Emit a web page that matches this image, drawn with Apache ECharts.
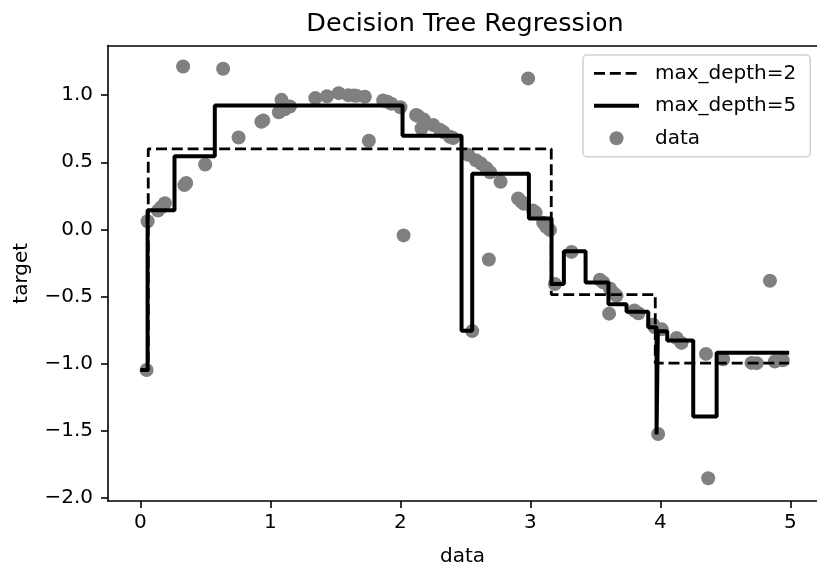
<!DOCTYPE html>
<html>
<head>
<meta charset="utf-8">
<script src="https://cdn.jsdelivr.net/npm/echarts@6/dist/echarts.min.js"></script>
<style>html,body{margin:0;padding:0;background:#fff}#c{width:817px;height:572px}</style>
</head>
<body>
<div id="c"></div>
<script>
// scatter data (x, target)
const dataX = [0.047,0.055,0.135,0.160,0.188,0.328,0.338,0.352,0.498,0.636,
  0.755,0.930,0.945,1.065,1.085,1.110,1.150,1.345,1.435,1.525,
  1.598,1.640,1.660,1.726,1.757,1.867,1.900,1.930,2.000,2.024,
  2.120,2.136,2.162,2.180,2.252,2.303,2.330,2.380,2.405,2.521,
  2.552,2.580,2.620,2.660,2.680,2.690,2.770,2.905,2.930,2.950,
  2.982,3.020,3.040,3.098,3.120,3.150,3.188,3.316,3.534,3.560,
  3.605,3.611,3.640,3.662,3.800,3.830,3.944,3.957,3.982,4.010,
  4.124,4.162,4.350,4.367,4.482,4.700,4.740,4.842,4.880,4.940];
const dataY = [-1.048,0.061,0.140,0.165,0.195,1.214,0.330,0.345,0.483,1.197,
  0.685,0.802,0.812,0.873,0.965,0.895,0.915,0.978,0.992,1.015,
  1.000,0.998,0.996,0.988,0.660,0.960,0.950,0.936,0.910,-0.045,
  0.852,0.845,0.752,0.818,0.778,0.742,0.725,0.690,0.680,0.556,
  -0.758,0.515,0.490,0.458,-0.225,0.425,0.355,0.230,0.205,0.190,
  1.125,0.140,0.125,0.050,0.020,-0.005,-0.407,-0.168,-0.375,-0.395,
  -0.628,-0.440,-0.475,-0.495,-0.605,-0.625,-0.710,-0.730,-1.525,-0.745,
  -0.809,-0.846,-0.928,-1.855,-0.968,-0.995,-0.997,-0.383,-0.985,-0.975];

// max_depth=2 prediction: segment start x and value
const depth2X = [0, 0.06, 3.16, 3.96, 4.99];
const depth2Y = [-1.05, 0.600, -0.486, -0.997, -0.997];

// max_depth=5 prediction: segment start x and value
const depth5X = [0, 0.055, 0.262, 0.572, 2.016, 2.470, 2.552, 2.988, 3.162, 3.257,
  3.424, 3.600, 3.739, 3.906, 3.970, 3.980, 4.052, 4.252, 4.432, 4.99];
const depth5Y = [-1.048, 0.142, 0.544, 0.922, 0.698, -0.756, 0.415, 0.081, -0.407, -0.163,
  -0.395, -0.558, -0.614, -0.729, -1.529, -0.759, -0.829, -1.394, -0.919, -0.919];

const xTicks = [0, 1, 2, 3, 4, 5];
const yTicks = [-2.0, -1.5, -1.0, -0.5, 0.0, 0.5, 1.0];

const FONT = 'DejaVu Sans';
const zip = (a, b) => a.map((v, i) => [v, b[i]]);
const fmtY = v => (v < 0 ? '\u2212' + Math.abs(v).toFixed(1) : v.toFixed(1));
const XMIN = -0.2495, XMAX = 5.204, YMIN = -2.024, YMAX = 1.370;
const spine = {show: true, onZero: false, lineStyle: {color: '#000', width: 1.6}};
const dash2 = {color: '#000', width: 2.8, type: [11, 4.8]};
const solid5 = {color: '#000', width: 4};

const chart = echarts.init(document.getElementById('c'), null, {renderer: 'canvas'});
chart.setOption({
  animation: false,
  backgroundColor: '#fff',
  textStyle: {fontFamily: FONT},
  title: {
    text: 'Decision Tree Regression',
    left: 460, top: 6, textAlign: 'center',
    textStyle: {fontFamily: FONT, fontSize: 25.5, fontWeight: 'normal', color: '#000'}
  },
  grid: {left: 108, right: 0, top: 45.5, bottom: 63},
  legend: {
    data: [
      {name: 'max_depth=2', itemStyle: {opacity: 0}, lineStyle: dash2},
      {name: 'max_depth=5', itemStyle: {opacity: 0}, lineStyle: solid5},
      {name: 'data', icon: 'circle'}
    ],
    orient: 'vertical',
    left: 583, top: 55,
    padding: [7.3, 14, 7.4, 9],
    itemWidth: 45, itemHeight: 14, itemGap: 10.5,
    backgroundColor: '#fff',
    borderColor: '#d0d0d0', borderWidth: 1.5, borderRadius: 4,
    textStyle: {fontFamily: FONT, fontSize: 20, lineHeight: 22, color: '#000', padding: [0, 0, 0, 11]}
  },
  xAxis: [{
    type: 'value', min: XMIN, max: XMAX, position: 'bottom',
    name: 'data', nameLocation: 'middle', nameGap: 46,
    nameTextStyle: {fontFamily: FONT, fontSize: 20, color: '#000'},
    axisLine: spine,
    axisTick: {show: true, length: 7, customValues: xTicks, lineStyle: {color: '#000', width: 1.6}},
    axisLabel: {customValues: xTicks, margin: 12, fontFamily: FONT, fontSize: 20, color: '#000',
      formatter: v => String(v)},
    splitLine: {show: false}
  }, {
    type: 'value', min: XMIN, max: XMAX, position: 'top',
    axisLine: spine, axisTick: {show: false}, axisLabel: {show: false}, splitLine: {show: false}
  }],
  yAxis: {
    type: 'value', min: YMIN, max: YMAX,
    name: 'target', nameLocation: 'middle', nameGap: 76, nameRotate: 90,
    nameTextStyle: {fontFamily: FONT, fontSize: 20, color: '#000'},
    axisLine: spine,
    axisTick: {show: true, length: 7, customValues: yTicks, lineStyle: {color: '#000', width: 1.6}},
    axisLabel: {customValues: yTicks, margin: 15, fontFamily: FONT, fontSize: 20, color: '#000',
      formatter: fmtY},
    splitLine: {show: false}
  },
  series: [
    {
      name: 'data', type: 'scatter', data: zip(dataX, dataY),
      symbolSize: 14, itemStyle: {color: '#808080', opacity: 1}, z: 2
    },
    {
      name: 'max_depth=2', type: 'line', step: 'end', data: zip(depth2X, depth2Y),
      symbol: 'none', color: '#000', lineStyle: dash2, z: 3
    },
    {
      name: 'max_depth=5', type: 'line', step: 'end', data: zip(depth5X, depth5Y),
      symbol: 'none', color: '#000', lineStyle: solid5, z: 4
    }
  ]
});
</script>
</body>
</html>
